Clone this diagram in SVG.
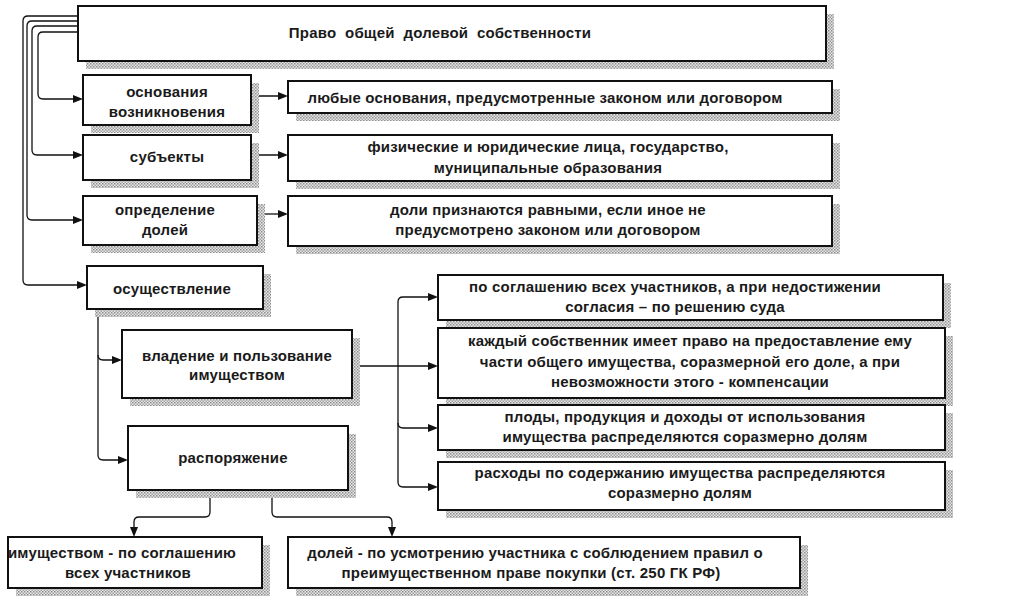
<svg xmlns="http://www.w3.org/2000/svg" xmlns:xlink="http://www.w3.org/1999/xlink" width="1024" height="605" viewBox="0 0 1024 605">
<defs>
<pattern id="hatch" x="0" y="0" width="3" height="3" patternUnits="userSpaceOnUse">
<rect x="0" y="0" width="3" height="3" fill="#e6e6e6"/>
<rect x="0" y="0" width="1.5" height="1.5" fill="#8e8e8e"/>
<rect x="1.5" y="1.5" width="1.5" height="1.5" fill="#a4a4a4"/>
</pattern>
<path id="ah" d="M-10,-4 L0,0 L-10,4 z" fill="#111"/>
</defs>
<style>
.bx{fill:#fff;stroke:#111;stroke-width:2;}
text{font-family:"Liberation Sans","Arial",sans-serif;font-weight:bold;font-size:15px;letter-spacing:0.2px;fill:#1a1a1a;text-anchor:middle;}
</style>
<rect width="1024" height="605" fill="#fff"/>

<g id="connectors">
<g fill="none" stroke="#111" stroke-width="1.3">
<path d="M78,32 H43 Q38,32 38,37 V94 Q38,99 43,99 H80"/>
<path d="M78,26 H37 Q32,26 32,31 V150 Q32,155 37,155 H80"/>
<path d="M78,21 H32 Q27,21 27,26 V215 Q27,220 32,220 H80"/>
<path d="M78,16 H28 Q23,16 23,21 V280 Q23,285 28,285 H84"/>
<path d="M251,96 H285"/>
<path d="M251,155 H285"/>
<path d="M257,214 H285"/>
<path d="M98,309 V455 Q98,460 103,460 H125"/>
<path d="M98,355 Q98,360 103,360 H119"/>
<path d="M352,366 H435"/>
<path d="M435,297 H403 Q398,297 398,302 V482 Q398,487 403,487 H435"/>
<path d="M398,423 Q398,428 403,428 H435"/>
<path d="M210,490 V512 Q210,517 205,517 H139 Q134,517 134,522 V534"/>
<path d="M272,490 V512 Q272,517 277,517 H387 Q392,517 392,522 V534"/>
</g>
<use xlink:href="#ah" href="#ah" transform="translate(83,99)"/>
<use xlink:href="#ah" href="#ah" transform="translate(83,155)"/>
<use xlink:href="#ah" href="#ah" transform="translate(83,220)"/>
<use xlink:href="#ah" href="#ah" transform="translate(87,285)"/>
<use xlink:href="#ah" href="#ah" transform="translate(288,96)"/>
<use xlink:href="#ah" href="#ah" transform="translate(288,155)"/>
<use xlink:href="#ah" href="#ah" transform="translate(288,214)"/>
<use xlink:href="#ah" href="#ah" transform="translate(122,360)"/>
<use xlink:href="#ah" href="#ah" transform="translate(128,460)"/>
<use xlink:href="#ah" href="#ah" transform="translate(438,297)"/>
<use xlink:href="#ah" href="#ah" transform="translate(438,366)"/>
<use xlink:href="#ah" href="#ah" transform="translate(438,428)"/>
<use xlink:href="#ah" href="#ah" transform="translate(438,487)"/>
<use xlink:href="#ah" href="#ah" transform="translate(134,537) rotate(90)"/>
<use xlink:href="#ah" href="#ah" transform="translate(392,537) rotate(90)"/>
</g>

<g id="n-top">
<rect fill="url(#hatch)" x="86" y="14" width="748" height="55"/>
<rect class="bx" x="78" y="6" width="748" height="55"/>
<text x="440" y="38" xml:space="preserve">Право  общей  долевой  собственности</text>
</g>

<g id="n-osnovaniya">
<rect fill="url(#hatch)" x="91" y="83" width="168" height="50"/>
<rect class="bx" x="83" y="75" width="168" height="50"/>
<text x="167" y="97">основания</text>
<text x="167" y="117">возникновения</text>
</g>
<g id="n-osnovaniya-val">
<rect fill="url(#hatch)" x="296" y="89" width="544" height="32"/>
<rect class="bx" x="288" y="81" width="544" height="32"/>
<text x="545" y="103">любые основания, предусмотренные законом или договором</text>
</g>

<g id="n-subekty">
<rect fill="url(#hatch)" x="91" y="143" width="168" height="45"/>
<rect class="bx" x="83" y="135" width="168" height="45"/>
<text x="167" y="162">субъекты</text>
</g>
<g id="n-subekty-val">
<rect fill="url(#hatch)" x="296" y="143" width="544" height="46"/>
<rect class="bx" x="288" y="135" width="544" height="46"/>
<text x="548" y="152">физические и юридические лица, государство,</text>
<text x="548" y="173">муниципальные образования</text>
</g>

<g id="n-opredelenie">
<rect fill="url(#hatch)" x="91" y="204" width="174" height="49"/>
<rect class="bx" x="83" y="196" width="174" height="49"/>
<text x="165" y="215">определение</text>
<text x="165" y="235">долей</text>
</g>
<g id="n-opredelenie-val">
<rect fill="url(#hatch)" x="296" y="204" width="544" height="50"/>
<rect class="bx" x="288" y="196" width="544" height="50"/>
<text x="548" y="215">доли признаются равными, если иное не</text>
<text x="548" y="235">предусмотрено законом или договором</text>
</g>

<g id="n-osushchestvlenie">
<rect fill="url(#hatch)" x="95" y="274" width="176" height="43"/>
<rect class="bx" x="87" y="266" width="176" height="43"/>
<text x="172" y="294">осуществление</text>
</g>

<g id="n-vladenie">
<rect fill="url(#hatch)" x="130" y="338" width="230" height="68"/>
<rect class="bx" x="122" y="330" width="230" height="68"/>
<text x="237" y="361">владение и пользование</text>
<text x="237" y="380">имуществом</text>
</g>

<g id="n-rasporyazhenie">
<rect fill="url(#hatch)" x="136" y="434" width="220" height="64"/>
<rect class="bx" x="128" y="426" width="220" height="64"/>
<text x="233" y="463">распоряжение</text>
</g>

<g id="n-a">
<rect fill="url(#hatch)" x="446" y="283" width="505" height="45"/>
<rect class="bx" x="438" y="275" width="505" height="45"/>
<text x="675" y="292">по соглашению всех участников, а при недостижении</text>
<text x="675" y="312">согласия – по решению суда</text>
</g>
<g id="n-b">
<rect fill="url(#hatch)" x="446" y="336" width="507" height="70"/>
<rect class="bx" x="438" y="328" width="507" height="70"/>
<text x="690" y="346">каждый собственник имеет право на предоставление ему</text>
<text x="690" y="367">части общего имущества, соразмерной его доле, а при</text>
<text x="690" y="387">невозможности этого - компенсации</text>
</g>
<g id="n-c">
<rect fill="url(#hatch)" x="446" y="413" width="507" height="45"/>
<rect class="bx" x="438" y="405" width="507" height="45"/>
<text x="685" y="422">плоды, продукция и доходы от использования</text>
<text x="685" y="442">имущества распределяются соразмерно долям</text>
</g>
<g id="n-d">
<rect fill="url(#hatch)" x="446" y="470" width="507" height="48"/>
<rect class="bx" x="438" y="462" width="507" height="48"/>
<text x="680" y="478">расходы по содержанию имущества распределяются</text>
<text x="680" y="498">соразмерно долям</text>
</g>

<g id="n-imushchestvom">
<rect fill="url(#hatch)" x="16" y="545" width="254" height="51"/>
<rect class="bx" x="8" y="537" width="254" height="51"/>
<text x="122" y="558">имуществом - по соглашению</text>
<text x="128" y="578">всех участников</text>
</g>
<g id="n-doley">
<rect fill="url(#hatch)" x="296" y="545" width="512" height="51"/>
<rect class="bx" x="288" y="537" width="512" height="51"/>
<text x="535" y="558">долей - по усмотрению участника с соблюдением правил о</text>
<text x="531" y="578">преимущественном праве покупки (ст. 250 ГК РФ)</text>
</g>
</svg>
